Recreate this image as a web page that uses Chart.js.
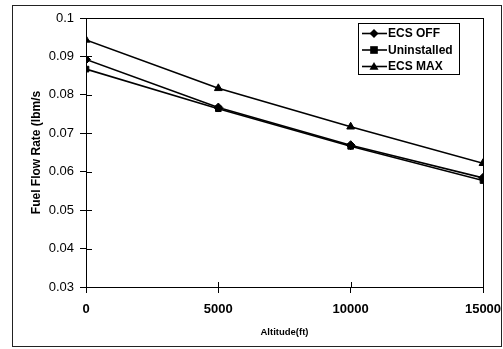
<!DOCTYPE html>
<html>
<head>
<meta charset="utf-8">
<style>
  html, body { margin: 0; padding: 0; background: #fff; }
  #wrap { width: 503px; height: 349px; }
</style>
<script src="https://cdn.jsdelivr.net/npm/chart.js"></script>
</head>
<body>
<div id="wrap"><canvas id="cvs_fuel" width="503" height="349"></canvas></div>
<script>
// altitudes on the x axis (ft)
const altitudes = [0, 5000, 10000, 15000];

// fuel flow rate (lbm/s)
const ecsOff = [0.0892, 0.0767, 0.0669, 0.0584];
const uninstalled = [0.0867, 0.0764, 0.0666, 0.0577];
const ecsMax = [0.0943, 0.0817, 0.0717, 0.0622];

const seriesNames = ["ECS OFF", "Uninstalled", "ECS MAX"];
const seriesMarkers = ["rectRot", "rect", "triangle"];

const yMin = 0.03, yMax = 0.1, yStep = 0.01;
const xMin = 0, xMax = 15000, xStep = 5000;

const fonte = "Arial, 'Liberation Sans', sans-serif";

function pontos(valores) {
    return altitudes.map((alt, i) => ({ x: alt, y: valores[i] }));
}

// draws a small marker like the ones on the lines
function desenhaMarcador(ctx, tipo, x, y, r) {
    ctx.beginPath();
    if (tipo === "rectRot") {
        ctx.moveTo(x, y - r);
        ctx.lineTo(x + r, y);
        ctx.lineTo(x, y + r);
        ctx.lineTo(x - r, y);
    } else if (tipo === "rect") {
        ctx.rect(x - r * 0.85, y - r * 0.85, r * 1.7, r * 1.7);
    } else {
        ctx.moveTo(x, y - r);
        ctx.lineTo(x + r, y + r * 0.7);
        ctx.lineTo(x - r, y + r * 0.7);
    }
    ctx.closePath();
    ctx.fill();
}

// frame around the figure, box around the plot, inner ticks and the legend
const molduraPlugin = {
    id: "moldura",
    afterDraw(chart) {
        const { ctx, chartArea: a } = chart;
        const xs = chart.scales.x, ys = chart.scales.y;
        ctx.save();

        // outer frame
        ctx.strokeStyle = "#222";
        ctx.lineWidth = 1;
        ctx.strokeRect(12.5, 5.5, 489, 341);

        // plot box
        ctx.strokeStyle = "#000";
        ctx.strokeRect(a.left + 0.5, a.top + 0.5, a.right - a.left, a.bottom - a.top);

        // tick marks on the inner side of the axes
        ctx.beginPath();
        ys.ticks.forEach((t, i) => {
            const py = Math.round(ys.getPixelForTick(i)) + 0.5;
            ctx.moveTo(a.left, py);
            ctx.lineTo(a.left + 6, py);
        });
        xs.ticks.forEach((t, i) => {
            const px = Math.round(xs.getPixelForTick(i)) + 0.5;
            ctx.moveTo(px, a.bottom);
            ctx.lineTo(px, a.bottom - 5);
        });
        ctx.stroke();

        // legend box
        const bx = a.right - 125, by = a.top + 5, bw = 101, bh = 51;
        ctx.fillStyle = "#fff";
        ctx.fillRect(bx, by, bw, bh);
        ctx.strokeRect(bx + 0.5, by + 0.5, bw, bh);

        ctx.font = "bold 12px " + fonte;
        ctx.textBaseline = "middle";
        ctx.textAlign = "left";
        chart.data.datasets.forEach((ds, i) => {
            const cy = by + 10.5 + i * 16.5;
            ctx.strokeStyle = "#000";
            ctx.lineWidth = 1.6;
            ctx.beginPath();
            ctx.moveTo(bx + 4, cy);
            ctx.lineTo(bx + 29, cy);
            ctx.stroke();
            ctx.fillStyle = "#000";
            desenhaMarcador(ctx, seriesMarkers[i], bx + 16, cy, 4.5);
            ctx.fillText(ds.label, bx + 30, cy + 0.5);
        });

        ctx.restore();
    }
};

const dadosSeries = [ecsOff, uninstalled, ecsMax];

new Chart(document.getElementById("cvs_fuel"), {
    type: "line",
    data: {
        datasets: dadosSeries.map((valores, i) => ({
            label: seriesNames[i],
            data: pontos(valores),
            borderColor: "#000",
            backgroundColor: "#000",
            borderWidth: 1.6,
            pointStyle: seriesMarkers[i],
            pointRadius: i === 1 ? 4 : 4.5,
            pointBorderWidth: 1,
            tension: 0,
            fill: false
        }))
    },
    options: {
        responsive: false,
        animation: false,
        events: [],
        layout: { padding: { top: 18, right: 20, left: 0, bottom: 0 } },
        plugins: {
            legend: { display: false },
            tooltip: { enabled: false }
        },
        scales: {
            x: {
                type: "linear",
                min: xMin,
                max: xMax,
                afterFit(scale) {
                    scale.height = 62;
                    scale.paddingLeft = 0;
                    scale.paddingRight = 0;
                },
                ticks: {
                    stepSize: xStep,
                    color: "#000",
                    padding: 9,
                    maxRotation: 0,
                    font: { family: fonte, size: 13, weight: "bold" },
                    callback: v => String(v)
                },
                grid: { drawOnChartArea: false, tickLength: 6, color: "#000" },
                border: { color: "#000", width: 1 },
                title: {
                    display: true,
                    text: "Altitude(ft)",
                    color: "#000",
                    padding: { top: 0, bottom: 11 },
                    font: { family: fonte, size: 9.5, weight: "bold" }
                }
            },
            y: {
                min: yMin,
                max: yMax,
                afterFit(scale) {
                    scale.width = 86;
                    scale.paddingTop = 0;
                    scale.paddingBottom = 0;
                },
                ticks: {
                    stepSize: yStep,
                    color: "#000",
                    padding: 6,
                    font: { family: fonte, size: 13 },
                    callback: v => parseFloat(v.toFixed(2)).toString()
                },
                grid: { drawOnChartArea: false, tickLength: 6, color: "#000" },
                border: { color: "#000", width: 1 },
                title: {
                    display: true,
                    text: "Fuel Flow Rate (lbm/s",
                    color: "#000",
                    padding: { top: 29, bottom: 0 },
                    font: { family: fonte, size: 12, weight: "bold" }
                }
            }
        }
    },
    plugins: [molduraPlugin]
});
</script>
</body>
</html>
